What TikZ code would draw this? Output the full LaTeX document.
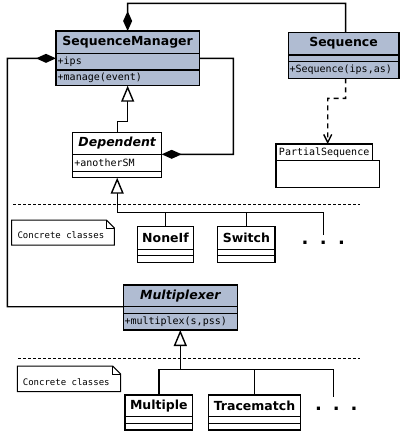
\documentclass[tikz,border=0pt]{standalone}
\usepackage{fontspec}
\setmainfont{DejaVu Sans}
\newfontfamily\umlmono{DejaVu Sans Mono}
\usetikzlibrary{arrows.meta}
\definecolor{ub}{RGB}{176,188,210}
\begin{document}
\begin{tikzpicture}[x=1pt,y=-1pt,
 box/.style={draw, line width=1.5pt, inner sep=0pt, outer sep=0pt, anchor=north west},
 filled/.style={box, fill=ub},
 plain/.style={box, fill=white},
 ttl/.style={font=\fontsize{12.5}{14}\selectfont\bfseries},
 ttli/.style={font=\fontsize{12.5}{14}\selectfont\bfseries\itshape},
 monof/.style={font=\umlmono\fontsize{10}{12}\selectfont},
 mono/.style={monof, anchor=west, inner sep=0pt},
 notetext/.style={font=\umlmono\fontsize{9}{11}\selectfont, anchor=west, inner sep=0pt},
 conn/.style={line width=1.4pt},
 compo/.style={conn, {Diamond[length=20pt,width=9pt]}-},
 inh/.style={conn, -{Triangle[open, length=16pt, width=13pt, fill=white]}},
 depn/.style={conn, dash pattern=on 5pt off 4pt, -{Straight Barb[length=8pt,width=8pt]}},
 sep/.style={line width=1pt, dash pattern=on 3pt off 2pt},
 note/.style={line width=1pt, fill=white},
 dotsf/.style={font=\fontsize{18}{20}\selectfont\bfseries, inner sep=0pt}
]
\useasboundingbox (0,0) rectangle (400,437);

% SequenceManager
\node[filled, minimum width=143.3pt, minimum height=22.3pt, ttl] (smT) at (56,31) {SequenceManager};
\node[filled, minimum width=143.3pt, minimum height=16.7pt] (smA) at (smT.south west) {};
\node[filled, minimum width=143.3pt, minimum height=15.7pt] (smO) at (smA.south west) {};
\node[mono] (smAt) at ([xshift=1.5pt]smA.west) {+ips};
\node[mono] (smOt) at ([xshift=1.5pt]smO.west) {+manage(event)};

% Sequence
\node[filled, minimum width=110.5pt, minimum height=22.7pt, ttl] (sqT) at (288.3,32.3) {Sequence};
\node[filled, minimum width=110.5pt, minimum height=6.7pt] (sqA) at (sqT.south west) {};
\node[filled, minimum width=110.5pt, minimum height=16.6pt] (sqO) at (sqA.south west) {};
\node[mono] (sqOt) at ([xshift=1pt]sqO.west) {+Sequence(ips,as)};

% PartialSequence
\node[plain, line width=1.2pt, minimum width=96.3pt, minimum height=16.7pt, monof] (psT) at (276,144) {PartialSequence};
\node[plain, line width=1.2pt, minimum width=103.3pt, minimum height=26.6pt] (psB) at (psT.south west) {};

% Dependent
\node[plain, minimum width=89pt, minimum height=22pt, ttli] (depT) at (72.7,132.3) {Dependent};
\node[plain, minimum width=89pt, minimum height=17.4pt] (depA) at (depT.south west) {};
\node[plain, minimum width=89pt, minimum height=6pt] (depO) at (depA.south west) {};
\node[mono] (depAt) at ([xshift=1.5pt]depA.west) {+anotherSM};

% NoneIf
\node[plain, minimum width=55.6pt, minimum height=22.6pt, ttl] (niT) at (137.7,226.7) {NoneIf};
\node[plain, minimum width=55.6pt, minimum height=6.4pt] (niA) at (niT.south west) {};
\node[plain, minimum width=55.6pt, minimum height=6.6pt] (niO) at (niA.south west) {};

% Switch
\node[plain, minimum width=57.3pt, minimum height=22.6pt, ttl] (swT) at (217.7,226.7) {Switch};
\node[plain, minimum width=57.3pt, minimum height=6.4pt] (swA) at (swT.south west) {};
\node[plain, minimum width=57.3pt, minimum height=6.6pt] (swO) at (swA.south west) {};

% Multiplexer
\node[filled, minimum width=114pt, minimum height=21.7pt, ttli] (mxT) at (123.3,285) {Multiplexer};
\node[filled, minimum width=114pt, minimum height=6.6pt] (mxA) at (mxT.south west) {};
\node[filled, minimum width=114pt, minimum height=16.7pt] (mxO) at (mxA.south west) {};
\node[mono] (mxOt) at ([xshift=1pt]mxO.west) {+multiplex(s,pss)};

% Multiple
\node[plain, minimum width=67.7pt, minimum height=21.7pt, ttl] (mpT) at (125,395) {Multiple};
\node[plain, minimum width=67.7pt, minimum height=6.6pt] (mpA) at (mpT.south west) {};
\node[plain, minimum width=67.7pt, minimum height=6.7pt] (mpO) at (mpA.south west) {};

% Tracematch
\node[plain, minimum width=92.4pt, minimum height=21.7pt, ttl] (tmT) at (208.3,395) {Tracematch};
\node[plain, minimum width=92.4pt, minimum height=6.6pt] (tmA) at (tmT.south west) {};
\node[plain, minimum width=92.4pt, minimum height=6.7pt] (tmO) at (tmA.south west) {};

% dots
\node[dotsf] (dots1) at (323.3,242.3) {.\hspace{11.5pt}.\hspace{11.5pt}.};
\node[dotsf] (dots2) at (336.3,408.3) {.\hspace{11pt}.\hspace{11pt}.};

% separators
\coordinate (s1a) at (13.3,204.3); \coordinate (s1b) at (360,204.3);
\coordinate (s2a) at (18.3,358.3); \coordinate (s2b) at (360,358.3);
\draw[sep] (s1a) -- (s1b);
\draw[sep] (s2a) -- (s2b);

% notes
\draw[note] (11.7,220) -- (106.3,220) -- (114.3,228) -- (114.3,245) -- (11.7,245) -- cycle;
\draw[line width=1pt] (106.3,220) -- (106.3,228) -- (114.3,228);
\node[notetext] (n1) at (17.3,235) {Concrete classes};
\draw[note] (17.3,366) -- (112.7,366) -- (120.7,374) -- (120.7,391.7) -- (17.3,391.7) -- cycle;
\draw[line width=1pt] (112.7,366) -- (112.7,374) -- (120.7,374);
\node[notetext] (n2) at (22.7,381.7) {Concrete classes};

% composition SM -> Sequence
\coordinate (c1) at (127.65,3.3); \coordinate (c2) at (345.65,3.3);
\draw[compo] (smT.north) -- (c1) -- (c2) -- ([xshift=2.1pt]sqT.north);

% composition SM -> Multiplexer
\coordinate (c3) at (7.3,58.3); \coordinate (c4) at (7.3,306.7);
\draw[compo] ([yshift=3.3pt]smA.west) -- (c3) -- (c4) -- (mxT.south west);

% composition Dependent -> SM
\coordinate (c5) at (233.3,154.3); \coordinate (c6) at (233.3,58.3);
\draw[compo] (depT.south east) -- (c5) -- (c6) -- ([yshift=3.3pt]smA.east);

% Dependent inherits SM
\coordinate (k1) at (117.2,121.7);
\draw[inh] (depT.north) -- (k1) -| (smO.south);

% concrete classes inherit Dependent
\coordinate (j1) at (117.2,212.7);
\coordinate (d1) at (323.3,235);
\draw[inh] (j1) -- (depO.south);
\draw[conn] (niT.north) |- (j1);
\draw[conn] (swT.north) |- (j1);
\draw[conn] (d1) |- (j1);

% concrete classes inherit Multiplexer
\coordinate (j2) at (180.3,369.3);
\coordinate (d2) at (333.3,396.7);
\draw[inh] (j2) -- (mxO.south);
\draw[conn] (mpT.north) |- (j2);
\draw[conn] (tmT.north) |- (j2);
\draw[conn] (d2) |- (j2);

% dependency Sequence -> PartialSequence
\coordinate (p1) at (345.65,98.3); \coordinate (p2) at (327.7,98.3);
\draw[depn] ([xshift=2.1pt]sqO.south) -- (p1) -- (p2) -- (p2 |- psT.north);
\end{tikzpicture}
\end{document}
